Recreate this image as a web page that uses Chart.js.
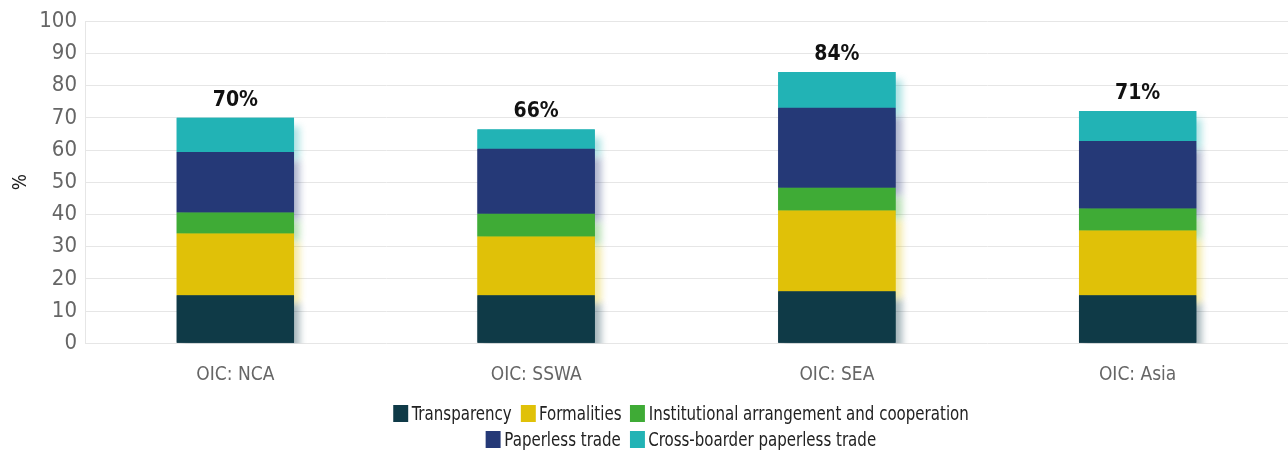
<!DOCTYPE html>
<html>
<head>
<meta charset="utf-8">
<script src="https://cdn.jsdelivr.net/npm/chart.js@4.4.1/dist/chart.umd.min.js"></script>
<style>
    body { margin: 0; background: #fff; }
    #wrap { position: relative; width: 1288px; height: 450px; }
    #legend {
        position: absolute; left: 37px; top: 400px; width: 1288px;
        font-family: 'Liberation Sans Narrow', 'DejaVu Sans Condensed', 'Roboto Condensed', Roboto, sans-serif;
        font-size: 19px; color: #222; text-align: center; line-height: 26px;
        transform: scaleX(0.88); transform-origin: 50% 0;
    }
    #legend span.item { display: inline-block; margin: 0 5px; white-space: nowrap; }
    #legend span.box { display: inline-block; width: 17px; height: 17px; margin-right: 4px; vertical-align: -2px; }
</style>
</head>
<body>
<div id="wrap">
    <canvas id="Chart1" width="1288" height="450"></canvas>
    <div id="legend"></div>
</div>
<script>
const categories = ['OIC: NCA', 'OIC: SSWA', 'OIC: SEA', 'OIC: Asia'];
const transparency = [14.9, 14.9, 16.1, 14.9];
const formalities = [19.2, 18.2, 25.1, 20.1];
const institutional = [6.5, 7.1, 7.1, 6.8];
const paperless = [18.8, 20.2, 24.8, 21.0];
const crossBorder = [10.6, 6.0, 11.1, 9.3];
const totalLabels = [70, 66, 84, 71];
const yTicks = [0, 10, 20, 30, 40, 50, 60, 70, 80, 90, 100];

const fontName = "'Liberation Sans Narrow', 'DejaVu Sans Condensed', 'Roboto Condensed', Roboto, sans-serif";

const series = [
    {label: 'Transparency', data: transparency, color: '#0f3a47'},
    {label: 'Formalities', data: formalities, color: '#e0c108'},
    {label: 'Institutional arrangement and cooperation', data: institutional, color: '#3fab36'},
    {label: 'Paperless trade', data: paperless, color: '#253977'},
    {label: 'Cross-boarder paperless trade', data: crossBorder, color: '#22b3b5'}
];

// soft coloured shadow to the right of every segment
const shadowPlugin = {
    id: 'barShadow',
    beforeDatasetsDraw: function (chart) {
        const ctx = chart.ctx;
        const area = chart.chartArea;
        ctx.save();
        ctx.beginPath();
        ctx.rect(area.left, area.top - 40, area.right - area.left, area.bottom - area.top + 40);
        ctx.clip();
        chart.data.datasets.forEach(function (ds, i) {
            const meta = chart.getDatasetMeta(i);
            meta.data.forEach(function (bar) {
                const p = bar.getProps(['x', 'y', 'base', 'width'], true);
                ctx.save();
                ctx.shadowColor = ds.backgroundColor + '60';
                ctx.shadowBlur = 7;
                ctx.shadowOffsetX = 6;
                ctx.shadowOffsetY = 8;
                ctx.fillStyle = ds.backgroundColor;
                ctx.fillRect(p.x - p.width / 2, p.y, p.width, p.base - p.y);
                ctx.restore();
            });
        });
        ctx.restore();
    }
};

const totalsPlugin = {
    id: 'totals',
    afterDatasetsDraw: function (chart) {
        const ctx = chart.ctx;
        const meta = chart.getDatasetMeta(chart.data.datasets.length - 1);
        ctx.save();
        ctx.font = 'bold 21px ' + fontName;
        ctx.fillStyle = '#111';
        ctx.textAlign = 'center';
        ctx.textBaseline = 'bottom';
        meta.data.forEach(function (bar, i) {
            ctx.fillText(totalLabels[i] + '%', bar.x, bar.y - 7);
        });
        ctx.restore();
    }
};

const ctx = document.getElementById('Chart1').getContext('2d');
const chart = new Chart(ctx, {
    type: 'bar',
    data: {
        labels: categories,
        datasets: series.map(function (s) {
            return {
                label: s.label,
                data: s.data,
                backgroundColor: s.color,
                borderWidth: 0,
                barPercentage: 0.39,
                categoryPercentage: 1.0
            };
        })
    },
    options: {
        responsive: false,
        animation: false,
        layout: {padding: {top: 6, right: 0, bottom: 52, left: 6}},
        plugins: {
            legend: {display: false},
            tooltip: {enabled: false}
        },
        scales: {
            x: {
                stacked: true,
                grid: {display: false},
                border: {display: false},
                ticks: {color: '#666', font: {family: fontName, size: 19}, padding: 12}
            },
            y: {
                stacked: true,
                min: 0,
                max: 100,
                afterBuildTicks: function (axis) {
                    axis.ticks = yTicks.map(v => ({value: v}));
                },
                afterFit: function (axis) {
                    axis.width = 79;
                },
                grid: {color: '#e6e6e6', lineWidth: 1, drawTicks: false},
                border: {color: '#e6e6e6'},
                ticks: {color: '#666', font: {family: fontName, size: 22}, padding: 8, autoSkip: false},
                title: {display: true, text: '%', color: '#222', font: {family: fontName, size: 19}, padding: {bottom: 26}}
            }
        }
    },
    plugins: [shadowPlugin, totalsPlugin]
});

let html = '';
series.forEach(function (s, i) {
    html += '<span class="item"><span class="box" style="background:' + s.color + '"></span>' + s.label + '</span>';
    if (i === 2) html += '<br>';
});
document.getElementById('legend').innerHTML = html;
</script>
</body>
</html>
